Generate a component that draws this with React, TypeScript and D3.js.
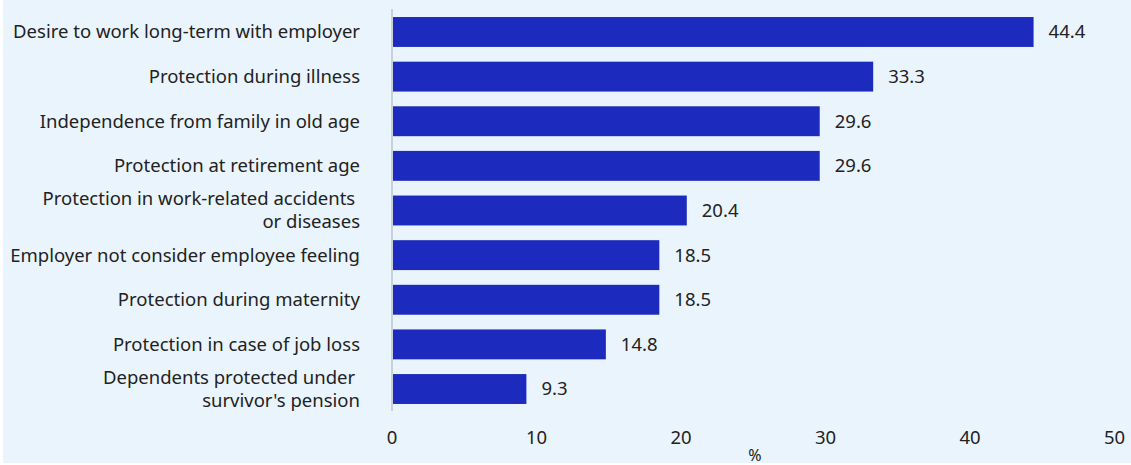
import React from "react";
import * as d3 from "d3";

const categories: string[][] = [
  ["Desire to work long-term with employer"],
  ["Protection during illness"],
  ["Independence from family in old age"],
  ["Protection at retirement age"],
  ["Protection in work-related accidents ", "or diseases"],
  ["Employer not consider employee feeling"],
  ["Protection during maternity"],
  ["Protection in case of job loss"],
  ["Dependents protected under ", "survivor's pension"],
];
const values: number[] = [44.4, 33.3, 29.6, 29.6, 20.4, 18.5, 18.5, 14.8, 9.3];
const ticks: number[] = [0, 10, 20, 30, 40, 50];
const axisTitle = "%";

const W = 1131;
const H = 465;
const FONT = "'Noto Sans', 'Open Sans', sans-serif";

export default function App() {
  const x = d3.scaleLinear().domain([0, 50]).range([392, 1114.5]);
  const idx = categories.map((_, i) => String(i));
  const y = d3.scaleBand().domain(idx).range([9, 412]).paddingInner(0.33).paddingOuter(0.18);
  const bw = y.bandwidth();
  return (
    <svg
      width={W}
      height={H}
      style={{ position: "absolute", left: 0, top: 0, fontFamily: FONT }}
    >
      <rect x={0} y={0} width={W} height={H} fill="#ffffff" />
      <rect x={3} y={0} width={W - 3} height={H - 2} fill="#eaf4fd" />
      {values.map((v, i) => (
        <rect
          key={"b" + i}
          x={x(0)}
          y={y(String(i))!}
          width={x(v) - x(0)}
          height={bw}
          fill="#1c2bbd"
        />
      ))}
      <line x1={x(0)} x2={x(0)} y1={9} y2={411} stroke="#c8d0dc" strokeWidth={2} />
      {values.map((v, i) => (
        <text
          key={"v" + i}
          x={x(v) + 15}
          y={y(String(i))! + bw / 2}
          dy="0.35em"
          fontSize={18.5}
          fill="#222"
        >
          {v.toFixed(1)}
        </text>
      ))}
      {categories.map((lines, i) => {
        const cy = y(String(i))! + bw / 2;
        const lh = 23;
        const start = cy - ((lines.length - 1) * lh) / 2;
        return (
          <text key={"c" + i} textAnchor="end" fontSize={18.5} fill="#222">
            {lines.map((l, j) => (
              <tspan key={j} x={360} y={start + j * lh} dy="0.35em" style={{ whiteSpace: "pre" }}>
                {l}
              </tspan>
            ))}
          </text>
        );
      })}
      {ticks.map((t) => (
        <text key={"t" + t} x={x(t)} y={438} dy="0.35em" textAnchor="middle" fontSize={18.5} fill="#222">
          {t}
        </text>
      ))}
      <text x={755} y={455} dy="0.35em" textAnchor="middle" fontSize={16} fill="#222">
        {axisTitle}
      </text>
    </svg>
  );
}
